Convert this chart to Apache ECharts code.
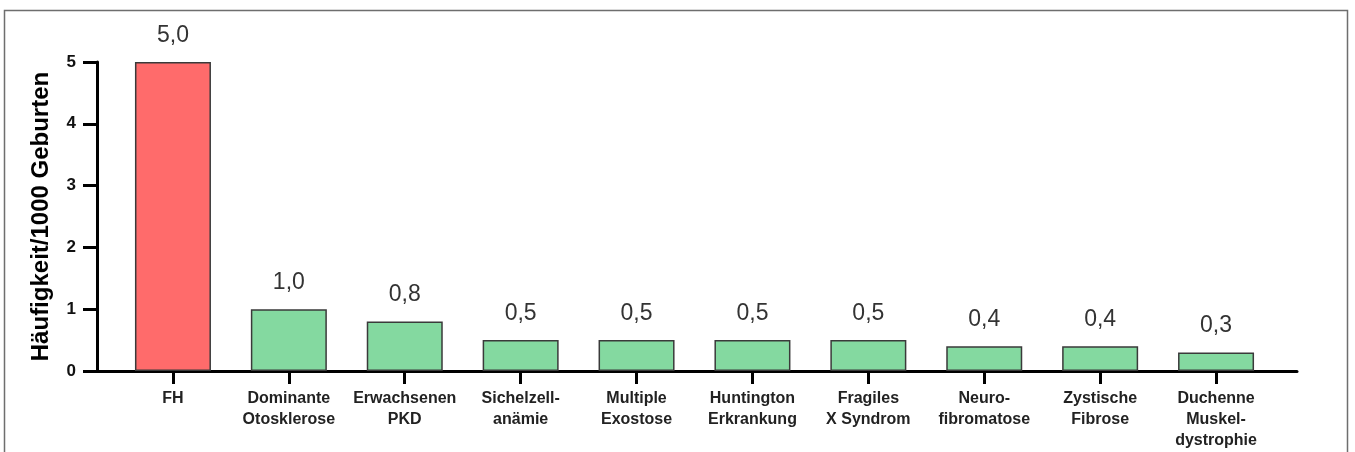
<!DOCTYPE html>
<html>
<head>
<meta charset="utf-8">
<script src="https://cdn.jsdelivr.net/npm/echarts@6/dist/echarts.min.js"></script>
<style>
  html, body { margin: 0; padding: 0; background: #fff; }
  #chart { width: 1355px; height: 452px; }
</style>
</head>
<body>
<div id="chart"></div>
<script>
const categories = [
  'FH',
  'Dominante\nOtosklerose',
  'Erwachsenen\nPKD',
  'Sichelzell-\nanämie',
  'Multiple\nExostose',
  'Huntington\nErkrankung',
  'Fragiles\nX Syndrom',
  'Neuro-\nfibromatose',
  'Zystische\nFibrose',
  'Duchenne\nMuskel-\ndystrophie'
];
const values = [5.0, 1.0, 0.8, 0.5, 0.5, 0.5, 0.5, 0.4, 0.4, 0.3];
const yTicks = [0, 1, 2, 3, 4, 5];
const yTitle = 'Häufigkeit/1000 Geburten';

const FONT = "'Liberation Sans', Arial, sans-serif";
const chart = echarts.init(document.getElementById('chart'), null, { renderer: 'canvas' });

chart.setOption({
  animation: false,
  backgroundColor: '#fff',
  graphic: [{
    type: 'rect',
    shape: { x: 4.5, y: 10.5, width: 1343, height: 470 },
    style: { fill: 'none', stroke: '#6e6e6e', lineWidth: 1.5 },
    silent: true,
    z: -1
  }],
  grid: [
    { left: 115, right: 81, top: 62, bottom: 81 },
    { left: 97, right: 58, top: 62, bottom: 81 }
  ],
  xAxis: [
    {
      type: 'category',
      gridIndex: 0,
      data: categories,
      boundaryGap: true,
      axisLine: { show: false },
      axisTick: { show: true, alignWithLabel: true, length: 13, lineStyle: { color: '#000', width: 3 } },
      axisLabel: {
        interval: 0,
        margin: 17,
        fontFamily: FONT,
        fontWeight: 'bold',
        fontSize: 16,
        lineHeight: 21,
        color: '#222'
      }
    },
    {
      type: 'value',
      gridIndex: 1,
      min: 0,
      max: 1,
      axisLine: { show: true, onZero: false, lineStyle: { color: '#000', width: 3 } },
      axisTick: { show: false },
      axisLabel: { show: false },
      splitLine: { show: false }
    }
  ],
  yAxis: [
    {
      type: 'value',
      gridIndex: 0,
      min: yTicks[0],
      max: yTicks[yTicks.length - 1],
      interval: 1,
      offset: 18,
      name: yTitle,
      nameLocation: 'middle',
      nameGap: 44,
      nameRotate: 90,
      nameTextStyle: { fontFamily: FONT, fontWeight: 'bold', fontSize: 24, color: '#000' },
      axisLine: { show: true, lineStyle: { color: '#000', width: 3 } },
      axisTick: { show: true, length: 14, lineStyle: { color: '#000', width: 3 } },
      axisLabel: {
        margin: 21,
        fontFamily: FONT,
        fontWeight: 'bold',
        fontSize: 17,
        color: '#111',
        formatter: v => String(v)
      },
      splitLine: { show: false }
    },
    {
      type: 'value',
      gridIndex: 1,
      min: 0,
      max: 1,
      show: false
    }
  ],
  series: [{
    type: 'bar',
    xAxisIndex: 0,
    yAxisIndex: 0,
    data: values,
    barWidth: 76,
    itemStyle: {
      color: p => (p.dataIndex === 0 ? '#ff6b6b' : '#84d9a0'),
      borderColor: '#3a3a3a',
      borderWidth: 1.5
    },
    label: {
      show: true,
      position: 'top',
      distance: 15,
      fontFamily: FONT,
      fontSize: 23,
      color: '#333',
      formatter: p => p.value.toFixed(1).replace('.', ',')
    }
  }]
});
</script>
</body>
</html>
